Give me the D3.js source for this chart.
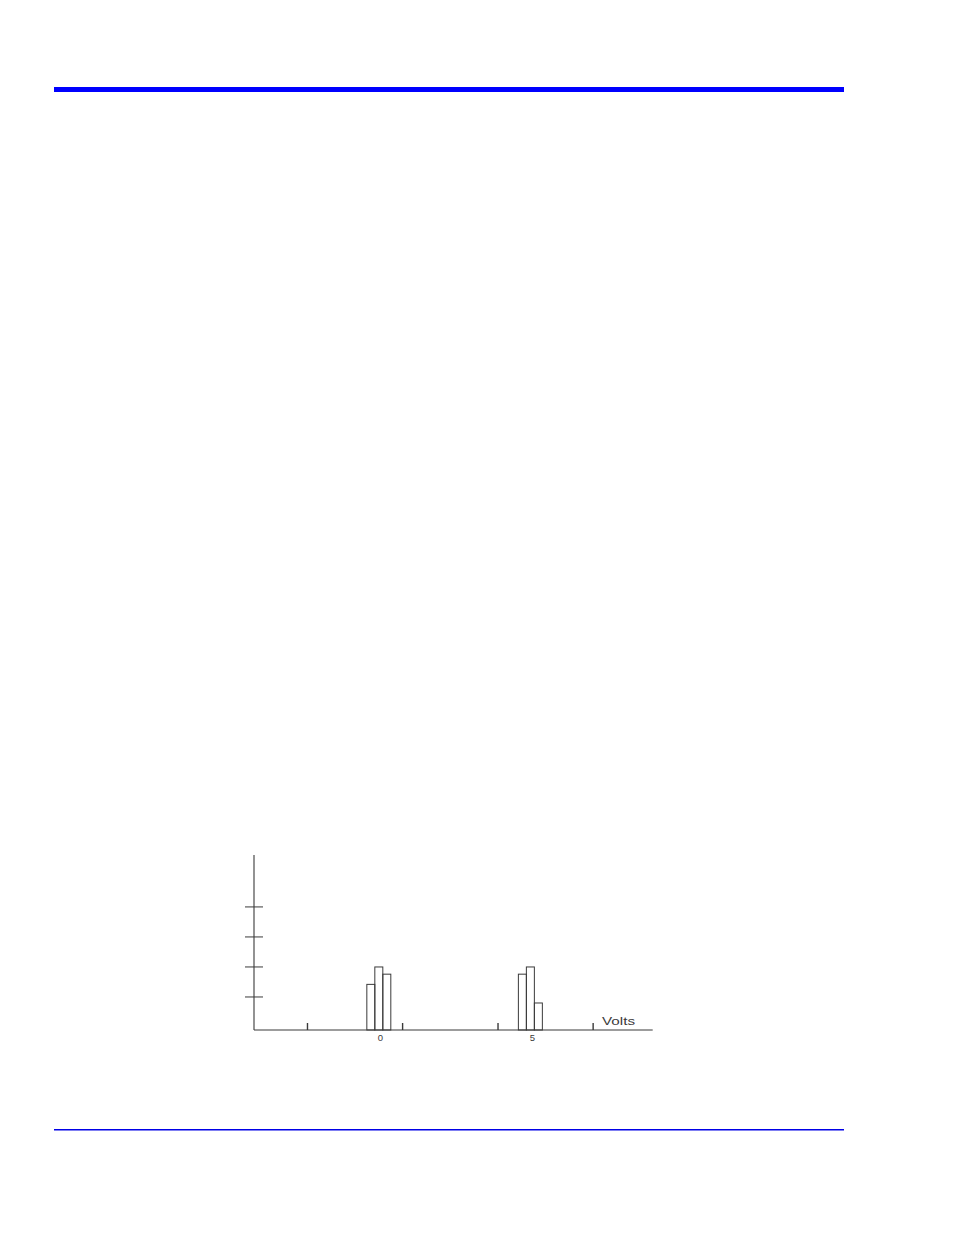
<!DOCTYPE html>
<html>
<head>
<meta charset="utf-8">
<script src="https://cdn.jsdelivr.net/npm/d3@7"></script>
<style>
  html, body { margin: 0; padding: 0; background: #fff; }
  svg { display: block; }
</style>
</head>
<body>
<svg id="page" width="954" height="1235"></svg>
<script>
// histogram bins: left edge (volts) and counts
const binWidth = 0.263;
const lowBins = [-0.447, -0.184, 0.079];
const lowCounts = [1.42, 2, 1.76];
const highBins = [4.54, 4.803, 5.066];
const highCounts = [1.76, 2, 0.8];

const xTickValues = [-2.4, 0.73, 3.87, 7.0];
const xLabelValues = [0, 5];
const yTickValues = [1, 2, 3, 4];
const xTitle = "Volts";

const ink = "#3a3a3a";

const svg = d3.select("#page");

// page rules
svg.append("rect").attr("x", 54).attr("y", 87).attr("width", 790).attr("height", 5).attr("fill", "#0000ff");
svg.append("rect").attr("x", 54).attr("y", 1129).attr("width", 790).attr("height", 1.5).attr("fill", "#0000e6");

const x = d3.scaleLinear().domain([-4.16, 8.96]).range([254, 652.7]);
const y = d3.scaleLinear().domain([-0.1, 5.73]).range([1030, 855]);

const g = svg.append("g");

// x axis line and upward ticks
g.append("line").attr("x1", x.range()[0]).attr("x2", x.range()[1])
  .attr("y1", y.range()[0]).attr("y2", y.range()[0])
  .attr("stroke", ink).attr("stroke-width", 1.1);

g.selectAll("line.xtick").data(xTickValues).enter().append("line")
  .attr("class", "xtick")
  .attr("x1", d => x(d)).attr("x2", d => x(d))
  .attr("y1", y.range()[0]).attr("y2", y.range()[0] - 7)
  .attr("stroke", ink).attr("stroke-width", 1.4);

g.selectAll("text.xlab").data(xLabelValues).enter().append("text")
  .attr("class", "xlab")
  .attr("x", d => x(d)).attr("y", 1040.5)
  .attr("text-anchor", "middle")
  .attr("font-family", "Liberation Sans, Arial, sans-serif")
  .attr("font-size", "9.5px")
  .attr("fill", ink)
  .text(d => d);

g.append("text").attr("x", 602).attr("y", 1025.3)
  .attr("font-family", "Liberation Sans, Arial, sans-serif")
  .attr("font-size", "10px")
  .attr("textLength", 33).attr("lengthAdjust", "spacingAndGlyphs")
  .attr("fill", ink)
  .text(xTitle);

// y axis line and crossing ticks
g.append("line").attr("x1", x.range()[0]).attr("x2", x.range()[0])
  .attr("y1", y.range()[0]).attr("y2", y.range()[1])
  .attr("stroke", ink).attr("stroke-width", 1.1);

g.selectAll("line.ytick").data(yTickValues).enter().append("line")
  .attr("class", "ytick")
  .attr("x1", x.range()[0] - 9).attr("x2", x.range()[0] + 9)
  .attr("y1", d => y(d)).attr("y2", d => y(d))
  .attr("stroke", ink).attr("stroke-width", 1);

// bars
const bars = lowBins.map((b, i) => ({x0: b, v: lowCounts[i]}))
  .concat(highBins.map((b, i) => ({x0: b, v: highCounts[i]})));

g.selectAll("rect.bar").data(bars).enter().append("rect")
  .attr("class", "bar")
  .attr("x", d => x(d.x0)).attr("width", d => x(d.x0 + binWidth) - x(d.x0))
  .attr("y", d => y(d.v)).attr("height", d => y.range()[0] - y(d.v))
  .attr("fill", "none").attr("stroke", ink).attr("stroke-width", 1);
</script>
</body>
</html>
